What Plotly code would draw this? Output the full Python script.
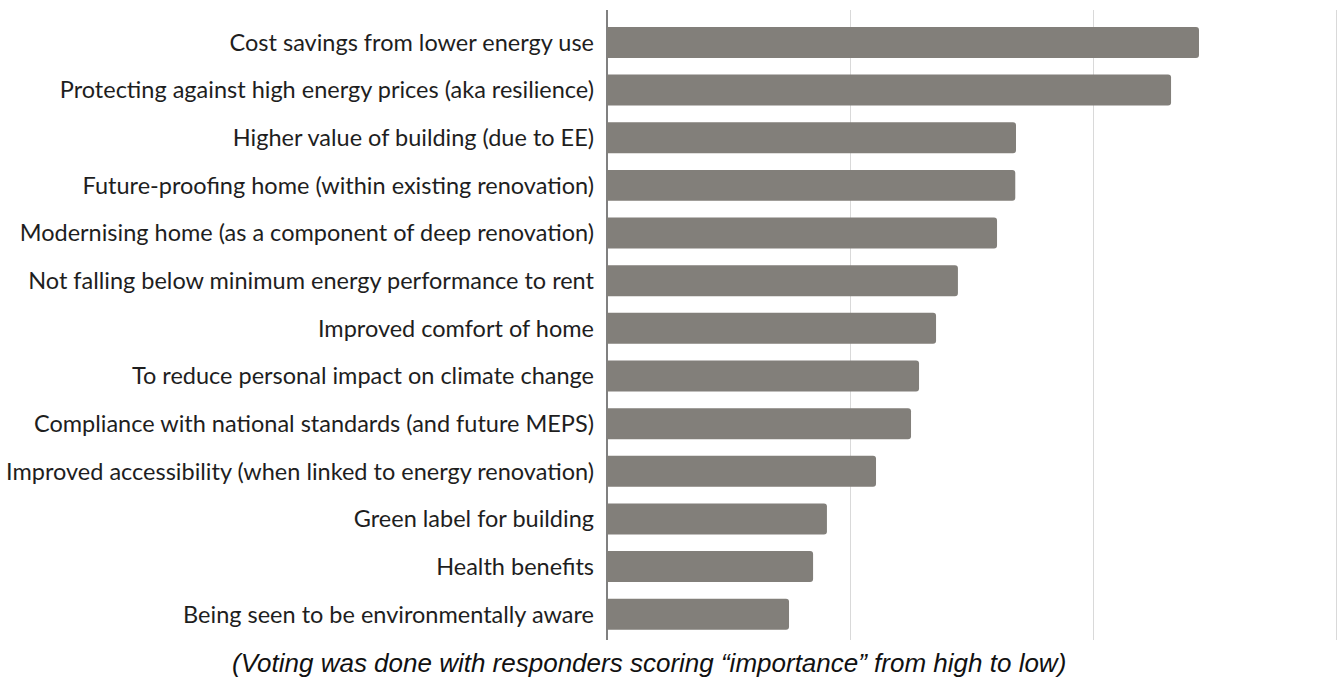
import plotly.graph_objects as go

categories = [
    "Cost savings from lower energy use",
    "Protecting against high energy prices (aka resilience)",
    "Higher value of building (due to EE)",
    "Future-proofing home (within existing renovation)",
    "Modernising home (as a component of deep renovation)",
    "Not falling below minimum energy performance to rent",
    "Improved comfort of home",
    "To reduce personal impact on climate change",
    "Compliance with national standards (and future MEPS)",
    "Improved accessibility (when linked to energy renovation)",
    "Green label for building",
    "Health benefits",
    "Being seen to be environmentally aware",
]
scores = [2.436, 2.321, 1.683, 1.680, 1.605, 1.444, 1.354, 1.284, 1.251, 1.107, 0.905, 0.848, 0.749]
footnote = "(Voting was done with responders scoring \u201cimportance\u201d from high to low)"

fig = go.Figure(
    go.Bar(
        x=scores,
        y=categories,
        orientation="h",
        marker=dict(color="#827f7a", cornerradius=3, line=dict(width=0)),
        hoverinfo="x+y",
    )
)

fig.update_layout(
    width=1338,
    height=677,
    margin=dict(l=607, r=0, t=10, b=37),
    paper_bgcolor="white",
    plot_bgcolor="white",
    bargap=0.35,
    showlegend=False,
    font=dict(family="Lato, 'Noto Sans', sans-serif", color="#222222"),
    xaxis=dict(
        range=[0, 3.008],
        tickmode="array",
        tickvals=[0, 1, 2, 3],
        showticklabels=False,
        showgrid=True,
        gridcolor="#d9d9d9",
        gridwidth=1,
        zeroline=True,
        zerolinecolor="#808080",
        zerolinewidth=1.5,
        showline=False,
        fixedrange=True,
    ),
    yaxis=dict(
        range=[12.54, -0.68],
        tickfont=dict(size=23.5, family="Lato, 'Noto Sans', sans-serif", color="#1e1e1e"),
        ticklabelstandoff=12,
        showgrid=False,
        showline=False,
        ticks="",
    ),
    annotations=[
        dict(
            text=footnote,
            xref="paper",
            yref="paper",
            x=0.057,
            y=-0.0365,
            xanchor="center",
            yanchor="middle",
            showarrow=False,
            font=dict(family="'Liberation Sans', Arial, sans-serif", size=26, color="#111111", style="italic"),
        )
    ],
)

fig.write_html(
    "out.html",
    config={"displayModeBar": False},
    post_script="document.body.style.margin='0';document.body.style.overflow='hidden';",
)
